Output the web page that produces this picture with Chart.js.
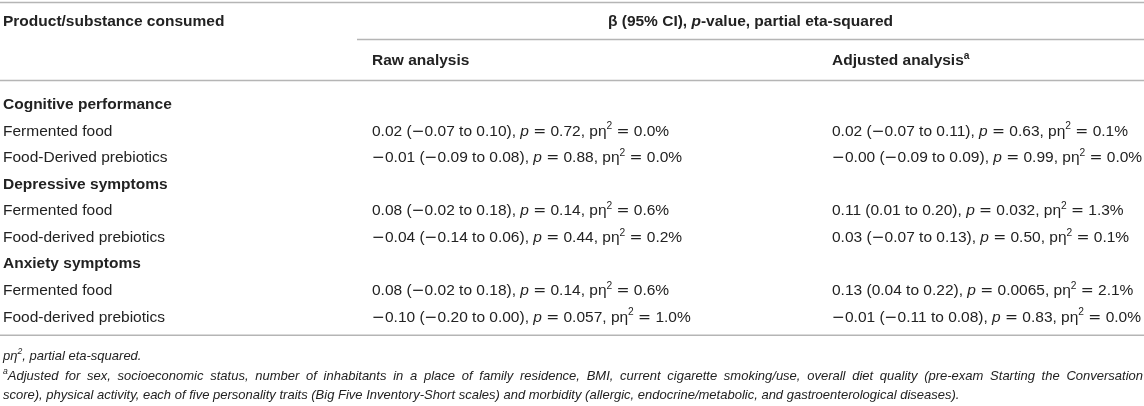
<!DOCTYPE html>
<html>
<head>
<meta charset="utf-8">
<style>
html,body{margin:0;padding:0;background:#fff;overflow:hidden}
canvas{display:block}
</style>
<script src="https://cdn.jsdelivr.net/npm/chart.js@4/dist/chart.umd.min.js"></script>
</head>
<body>
<canvas id="c" width="1144" height="406"></canvas>
<script>
// ---------- table content (data) ----------
// markup: *x* = italic, ^x^ = superscript
const headLabel   = 'Product/substance consumed';
const headSpan    = 'β (95% CI), *p*-value, partial eta-squared';
const columnHeads = ['Raw analysis', 'Adjusted analysis^a^'];

const outcomes = ['Cognitive performance', 'Depressive symptoms', 'Anxiety symptoms'];
const products = ['Fermented food', 'Food-Derived prebiotics',
                  'Fermented food', 'Food-derived prebiotics',
                  'Fermented food', 'Food-derived prebiotics'];

const rawBeta = ['0.02', '−0.01', '0.08', '−0.04', '0.08', '−0.10'];
const rawLow  = ['−0.07', '−0.09', '−0.02', '−0.14', '−0.02', '−0.20'];
const rawHigh = ['0.10', '0.08', '0.18', '0.06', '0.18', '0.00'];
const rawP    = ['0.72', '0.88', '0.14', '0.44', '0.14', '0.057'];
const rawEta  = ['0.0', '0.0', '0.6', '0.2', '0.6', '1.0'];

const adjBeta = ['0.02', '−0.00', '0.11', '0.03', '0.13', '−0.01'];
const adjLow  = ['−0.07', '−0.09', '0.01', '−0.07', '0.04', '−0.11'];
const adjHigh = ['0.11', '0.09', '0.20', '0.13', '0.22', '0.08'];
const adjP    = ['0.63', '0.99', '0.032', '0.50', '0.0065', '0.83'];
const adjEta  = ['0.1', '0.0', '1.3', '0.1', '2.1', '0.0'];

const footnotes = [
  'pη^2^, partial eta-squared.',
  '^a^Adjusted for sex, socioeconomic status, number of inhabitants in a place of family residence, BMI, current cigarette smoking/use, overall diet quality (pre-exam Starting the Conversation',
  'score), physical activity, each of five personality traits (Big Five Inventory-Short scales) and morbidity (allergic, endocrine/metabolic, and gastroenterological diseases).'
];

// ---------- build rows ----------
function cellText(b, lo, hi, p, eta) {
  return b + ' (' + lo + ' to ' + hi + '), *p* = ' + p + ', pη^2^ = ' + eta + '%';
}
const rowLabels = [];
const rowBold = [];
const cells = []; // {row, col, text}
let k = 0;
outcomes.forEach((o) => {
  rowLabels.push(o); rowBold.push(true);
  for (let j = 0; j < 2; j++) {
    const r = rowLabels.length;
    rowLabels.push(products[k]); rowBold.push(false);
    cells.push({row: r, col: 1, text: cellText(rawBeta[k], rawLow[k], rawHigh[k], rawP[k], rawEta[k])});
    cells.push({row: r, col: 2, text: cellText(adjBeta[k], adjLow[k], adjHigh[k], adjP[k], adjEta[k])});
    k++;
  }
});
rowLabels.forEach((l, r) => cells.push({row: r, col: 0, text: l, bold: rowBold[r]}));

// ---------- layout (styling, not data) ----------
const FAMILY = '"Liberation Sans", Arial, Helvetica, sans-serif';
const MATH = '"DejaVu Sans", sans-serif';
const TEXT = '#222222';
const RULE = '#b5b5b5';
const BODY_SIZE = 15.5;
const FOOT_SIZE = 13;
const colX = [3, 372, 832];
const spanStart = 357;
const headY = 20.5, subY = 59.5;
const footY = [355, 375, 394];

// ---------- rich text helpers ----------
function parseRich(s) {
  const out = [];
  s.split(/(\*[^*]+\*|\^[^^]+\^|=|−)/).forEach(p => {
    if (!p) return;
    if (p === '=' || p === '−') out.push({t: p, math: true});
    else if (p[0] === '*') out.push({t: p.slice(1, -1), it: true});
    else if (p[0] === '^') out.push({t: p.slice(1, -1), sup: true});
    else out.push({t: p});
  });
  return out;
}
function fontFor(seg, base) {
  const size = seg.sup ? base.size * 0.66 : base.size;
  const it = (base.italic || seg.it) && !seg.math;
  return (it ? 'italic ' : '') + (base.bold ? 'bold ' : '') + size + 'px ' + (seg.math ? MATH : FAMILY);
}
function measureSegs(ctx, segs, base) {
  let w = 0;
  segs.forEach(s => { ctx.font = fontFor(s, base); w += ctx.measureText(s.t).width; });
  return w;
}
function drawRich(ctx, str, x, y, base, opts) {
  opts = opts || {};
  const segs = parseRich(str);
  const w = measureSegs(ctx, segs, base);
  if (opts.align === 'center') x -= w / 2;
  let extra = 0;
  if (opts.justify) {
    const spaces = segs.reduce((n, s) => n + (s.t.match(/ /g) || []).length, 0);
    if (spaces) extra = (opts.justify - w) / spaces;
  }
  const baseline = y + base.size * 0.36;
  ctx.fillStyle = TEXT;
  ctx.textBaseline = 'alphabetic';
  ctx.textAlign = 'left';
  segs.forEach(s => {
    ctx.font = fontFor(s, base);
    const dy = s.sup ? -base.size * 0.4 : 0;
    if (extra) {
      const words = s.t.split(' ');
      words.forEach((wd, i) => {
        ctx.fillText(wd, x, baseline + dy);
        x += ctx.measureText(wd).width;
        if (i < words.length - 1) x += ctx.measureText(' ').width + extra;
      });
    } else {
      ctx.fillText(s.t, x, baseline + dy);
      x += ctx.measureText(s.t).width;
    }
  });
}

// ---------- plugin drawing the table through the scales ----------
const tablePlugin = {
  id: 'tableText',
  afterDatasetsDraw(chart) {
    const ctx = chart.ctx;
    const meta = chart.getDatasetMeta(0);
    const area = chart.chartArea;
    const W = chart.width;
    ctx.save();
    // rules
    ctx.strokeStyle = RULE;
    ctx.lineWidth = 1.5;
    const rule = (x0, x1, y) => { ctx.beginPath(); ctx.moveTo(x0, y); ctx.lineTo(x1, y); ctx.stroke(); };
    rule(0, W, 2.5);
    rule(spanStart, W, 39.5);
    rule(0, W, 80.5);
    rule(0, W, area.bottom + 6);
    // headers
    drawRich(ctx, headLabel, colX[0], headY, {size: BODY_SIZE, bold: true});
    drawRich(ctx, headSpan, (spanStart + W) / 2, headY, {size: BODY_SIZE, bold: true}, {align: 'center'});
    drawRich(ctx, columnHeads[0], colX[1], subY, {size: BODY_SIZE, bold: true});
    drawRich(ctx, columnHeads[1], colX[2], subY, {size: BODY_SIZE, bold: true});
    // body cells placed at the dataset points
    meta.data.forEach((pt, i) => {
      const c = cells[i];
      drawRich(ctx, c.text, pt.x, pt.y, {size: BODY_SIZE, bold: !!c.bold});
    });
    // footnotes
    drawRich(ctx, footnotes[0], colX[0], footY[0], {size: FOOT_SIZE, italic: true});
    drawRich(ctx, footnotes[1], colX[0], footY[1], {size: FOOT_SIZE, italic: true}, {justify: W - 4});
    drawRich(ctx, footnotes[2], colX[0], footY[2], {size: FOOT_SIZE, italic: true});
    ctx.restore();
  }
};

new Chart(document.getElementById('c'), {
  type: 'scatter',
  data: {
    datasets: [{
      data: cells.map(c => ({x: colX[c.col], y: c.row})),
      pointRadius: 0,
      pointHoverRadius: 0,
      showLine: false
    }]
  },
  options: {
    responsive: false,
    devicePixelRatio: 1,
    animation: false,
    events: [],
    layout: {padding: {top: 90.2, bottom: 76.7, left: 0, right: 0}},
    plugins: {legend: {display: false}, tooltip: {enabled: false}},
    scales: {
      x: {type: 'linear', min: 0, max: 1144, display: false},
      y: {type: 'linear', min: -0.5, max: rowLabels.length - 0.5, reverse: true, display: false}
    }
  },
  plugins: [tablePlugin]
});
</script>
</body>
</html>
